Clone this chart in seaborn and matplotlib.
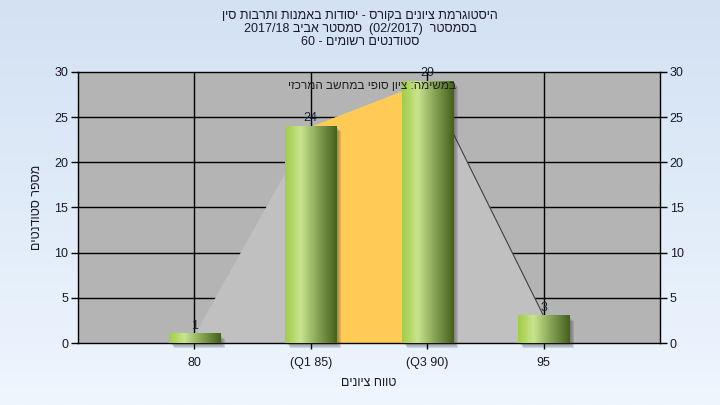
import re
import numpy as np
import seaborn as sns
import matplotlib
matplotlib.use('Agg')
import matplotlib.pyplot as plt
from matplotlib.colors import LinearSegmentedColormap
from matplotlib.patches import Rectangle
import matplotlib.transforms as mtransforms

# data
grade_labels = ['80', '(Q1 85)', '(Q3 90)', '95']
student_counts = [1, 24, 29, 3]
q1_index, q3_index = 1, 2
title_lines = ['היסטוגרמת ציונים בקורס - יסודות באמנות ותרבות סין',
               'בסמסטר  (02/2017)  סמסטר אביב 2017/18',
               'סטודנטים רשומים - 60']
note_text = 'במשימה: ציון סופי במחשב המרכזי'
xlabel_text = 'טווח ציונים'
ylabel_text = 'מספר סטודנטים'


def rtl(s):
    """very small bidi: reverse the string, keep number runs LTR, mirror brackets"""
    r = s[::-1]
    r = re.sub(r'[0-9A-Za-z/.]+', lambda m: m.group(0)[::-1], r)
    return r.translate(str.maketrans('()', ')('))


sns.set_theme(style='white')
plt.rcParams['font.family'] = ['Liberation Sans', 'DejaVu Sans']

fig = plt.figure(figsize=(7.2, 4.05), dpi=100)

# background gradient of the whole figure
bg = fig.add_axes([0, 0, 1, 1], zorder=-10)
bg_cmap = LinearSegmentedColormap.from_list('bg', ['#d3e1f3', '#eef6fe'])
bg.imshow(np.linspace(0, 1, 256).reshape(-1, 1), aspect='auto', cmap=bg_cmap,
          extent=[0, 1, 0, 1])
bg.axis('off')

ax = fig.add_axes([78 / 720, 1 - 343 / 405, 582 / 720, 271 / 405])
ax.set_facecolor('#b4b4b4')

sns.barplot(x=grade_labels, y=student_counts, ax=ax, width=0.44,
            color='#9acb45', saturation=1, zorder=5)
bars = list(ax.patches)

ax.set_xlim(-1, 4)
ax.set_ylim(0, 30)

# grid lines underneath the area
for yv in range(5, 30, 5):
    ax.axhline(yv, color='black', lw=1, zorder=0.5)
for xv in range(len(grade_labels)):
    ax.axvline(xv, color='black', lw=1, zorder=0.5)

# area (distribution) with quartile band
xs = np.arange(len(student_counts))
ax.fill_between(xs, student_counts, color='#c0c0c0', lw=0, zorder=1)
ax.fill_between(xs[q1_index:q3_index + 1], student_counts[q1_index:q3_index + 1],
                color='#ffcb55', lw=0, zorder=1.2)
ax.plot(xs[q3_index:], student_counts[q3_index:], color='#404040', lw=0.8, zorder=1.3)

# gradient bars with a soft shadow
bar_cmap = LinearSegmentedColormap.from_list(
    'bar', [(0, '#a0cd44'), (0.3, '#c9e48f'), (0.65, '#83a052'), (1, '#45601c')])
grad = np.linspace(0, 1, 256).reshape(1, -1)
for p in bars:
    x0, w, h = p.get_x(), p.get_width(), p.get_height()
    p.set_visible(False)
    for k, a in enumerate([0.1, 0.1, 0.12, 0.15]):
        off = mtransforms.offset_copy(ax.transData, fig=fig, x=2 + k, y=-(2 + k),
                                      units='dots')
        ax.add_patch(Rectangle((x0, 0), w, h, transform=off, facecolor='#303030',
                               alpha=a, lw=0, zorder=3, clip_on=False))
    ax.imshow(grad, cmap=bar_cmap, aspect='auto', extent=[x0, x0 + w, 0, h],
              zorder=6)
    ax.text(x0 + w / 2, h + 0.2, str(int(h)), ha='center', va='bottom',
            fontsize=9, color='#1c2438', zorder=7)

ax.set_xlim(-1, 4)
ax.set_ylim(0, 30)

ax.text(1.53, 28.4, rtl(note_text), ha='center', va='center', fontsize=8.5,
        color='#202020', zorder=8)

for side in ['left', 'right', 'bottom', 'top']:
    ax.spines[side].set_color('black')
    ax.spines[side].set_linewidth(1)
ax.spines['top'].set_visible(True)

ax.set_yticks(range(0, 31, 5))
ax.tick_params(axis='y', left=True, right=True, labelleft=True, labelright=True,
               direction='out', length=5, width=1, color='black', labelsize=9,
               labelcolor='#1a1a2a', pad=2)
ax.tick_params(axis='x', bottom=True, direction='out', length=4, width=1,
               color='black', labelsize=9, labelcolor='#1a1a2a', pad=6)

ax.set_xlabel(rtl(xlabel_text), fontsize=9, color='#1a1a2a', labelpad=6)
ax.set_ylabel(rtl(ylabel_text), fontsize=9, color='#1a1a2a', labelpad=8)

for i, line in enumerate(title_lines):
    fig.text(0.5, 1 - (16 + 13 * i) / 405, rtl(line), ha='center', va='center',
             fontsize=9, color='#1a1a2a')

fig.savefig('out.png', dpi=100)
